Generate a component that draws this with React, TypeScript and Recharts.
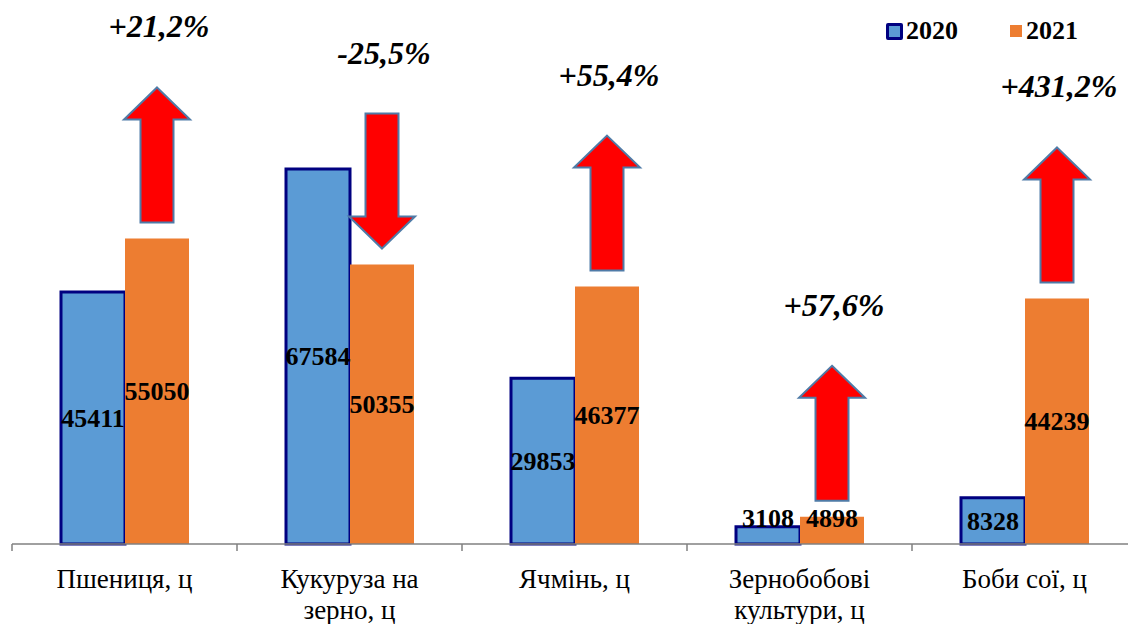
import React from 'react';
import { BarChart, Bar, XAxis, YAxis, LabelList } from 'recharts';

const categories = ['Пшениця, ц', 'Кукуруза на\nзерно, ц', 'Ячмінь, ц', 'Зернобобові\nкультури, ц', 'Боби сої, ц'];
const values2020 = [45411, 67584, 29853, 3108, 8328];
const values2021 = [55050, 50355, 46377, 4898, 44239];
const changeLabels = ['+21,2%', '-25,5%', '+55,4%', '+57,6%', '+431,2%'];

const data = categories.map((name, i) => ({
  name,
  y2020: values2020[i],
  y2021: values2021[i],
  change: changeLabels[i],
}));

const CHART_W = 1137;
const CHART_H = 624;
const AXIS_H = 30;
const MARGIN = { top: 100, right: 0, bottom: 50, left: 12 };
const BAND = (CHART_W - MARGIN.left - MARGIN.right) / categories.length;
const BASE_Y = CHART_H - MARGIN.bottom - AXIS_H;
const SERIF = '"Liberation Serif", "Times New Roman", serif';

const AxisTick = (props: any) => {
  const { x, y, payload } = props;
  const lines = String(payload.value).split('\n');
  return (
    <g>
      <line x1={x - BAND / 2} y1={y} x2={x - BAND / 2} y2={y + 7} stroke="#808080" strokeWidth={1.5} />
      {lines.map((ln, i) => (
        <text key={i} x={x} y={y + 44 + i * 31} textAnchor="middle" fontFamily={SERIF} fontSize={27} fill="#000">
          {ln}
        </text>
      ))}
    </g>
  );
};

const valueLabel = (props: any) => {
  const { x, y, width, height, value } = props;
  let cy = y + height / 2;
  if (height < 30) cy = BASE_Y - 26;
  return (
    <text x={x + width / 2} y={cy + 9} textAnchor="middle" fontFamily={SERIF} fontWeight="bold" fontSize={26} fill="#000">
      {value}
    </text>
  );
};

const ARROW_LEN = 135;
const ARROW_GAP = 16;

const arrowLabel = (props: any) => {
  const { x, y, width, index } = props;
  const text = changeLabels[index];
  const down = text.startsWith('-');
  const cx = x + width / 2;
  const bottom = y - ARROW_GAP;
  const top = bottom - ARROW_LEN;
  const hw = 33;
  const sw = 16.5;
  const head = 32;
  let pts: number[][];
  if (!down) {
    pts = [
      [cx, top], [cx + hw, top + head], [cx + sw, top + head], [cx + sw, bottom],
      [cx - sw, bottom], [cx - sw, top + head], [cx - hw, top + head],
    ];
  } else {
    pts = [
      [cx, bottom], [cx + hw, bottom - head], [cx + sw, bottom - head], [cx + sw, top],
      [cx - sw, top], [cx - sw, bottom - head], [cx - hw, bottom - head],
    ];
  }
  return (
    <g>
      <polygon points={pts.map((p) => p.join(',')).join(' ')} fill="#FF0000" stroke="#4F7BA7" strokeWidth={2} />
      <text x={cx + 2} y={top - 50} textAnchor="middle" fontFamily={SERIF} fontWeight="bold" fontStyle="italic" fontSize={32} fill="#000">
        {text}
      </text>
    </g>
  );
};

const Legend = () => (
  <div style={{ position: 'absolute', left: 886, top: 16, display: 'flex', alignItems: 'center', fontFamily: SERIF, fontWeight: 'bold', fontSize: 26 }}>
    <span style={{ width: 11, height: 11, background: '#5B9BD5', border: '3px solid #000080', borderRadius: 2, display: 'inline-block' }} />
    <span style={{ marginLeft: 3 }}>2020</span>
    <span style={{ width: 12, height: 12, background: '#ED7D31', display: 'inline-block', marginLeft: 52 }} />
    <span style={{ marginLeft: 4 }}>2021</span>
  </div>
);

export default function App() {
  return (
    <div style={{ position: 'absolute', left: 0, top: 0, width: 1128, height: 624, overflow: 'hidden', background: '#fff' }}>
      <BarChart width={CHART_W} height={CHART_H} data={data} margin={MARGIN} barGap={0} barSize={64}>
        <XAxis
          dataKey="name"
          height={AXIS_H}
          axisLine={{ stroke: '#808080', strokeWidth: 1.5 }}
          tickLine={false}
          tickSize={0}
          tickMargin={0}
          interval={0}
          tick={<AxisTick />}
        />
        <YAxis hide domain={[0, 80000]} />
        <Bar dataKey="y2020" fill="#5B9BD5" stroke="#000080" strokeWidth={3} isAnimationActive={false}>
          <LabelList dataKey="y2020" content={valueLabel} />
        </Bar>
        <Bar dataKey="y2021" fill="#ED7D31" isAnimationActive={false}>
          <LabelList dataKey="y2021" content={valueLabel} />
          <LabelList dataKey="change" content={arrowLabel} />
        </Bar>
      </BarChart>
      <Legend />
    </div>
  );
}
